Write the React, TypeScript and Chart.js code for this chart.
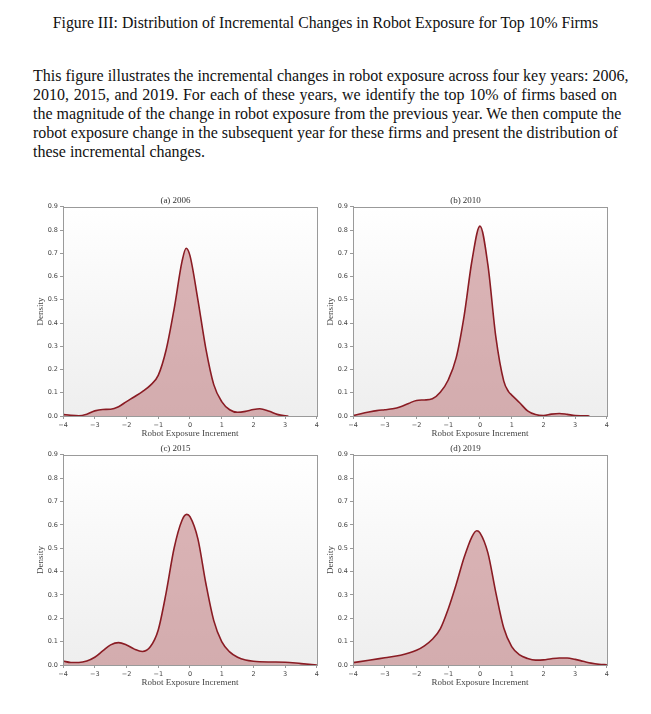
import React, { useEffect, useRef } from "react";
import { Chart, registerables } from "chart.js";

Chart.register(...registerables);

// ---- data ----
const figureTitle = "Figure III: Distribution of Incremental Changes in Robot Exposure for Top 10% Firms";
const paragraphLines = [
  "This figure illustrates the incremental changes in robot exposure across four key years: 2006,",
  "2010, 2015, and 2019.  For each of these years, we identify the top 10% of firms based on",
  "the magnitude of the change in robot exposure from the previous year. We then compute the",
  "robot exposure change in the subsequent year for these firms and present the distribution of",
  "these incremental changes.",
];

const panelTitles = ["(a) 2006", "(b) 2010", "(c) 2015", "(d) 2019"];
const xAxisTitle = "Robot Exposure Increment";
const yAxisTitle = "Density";

const xTickValues = [-4, -3, -2, -1, 0, 1, 2, 3, 4];
const yTickValues = [0, 0.1, 0.2, 0.3, 0.4, 0.5, 0.6, 0.7, 0.8, 0.9];

const x2006 = [-4, -3.75, -3.5, -3.25, -3, -2.75, -2.5, -2.25, -2, -1.75, -1.5, -1.25, -1, -0.75, -0.5, -0.25, -0.12, 0, 0.25, 0.5, 0.75, 1, 1.25, 1.5, 1.75, 2, 2.2, 2.5, 2.75, 3, 3.1];
const y2006 = [0.007, 0.003, 0.001, 0.008, 0.022, 0.028, 0.029, 0.04, 0.062, 0.083, 0.105, 0.132, 0.175, 0.285, 0.46, 0.665, 0.722, 0.69, 0.5, 0.29, 0.135, 0.062, 0.027, 0.016, 0.02, 0.028, 0.031, 0.02, 0.007, 0.001, 0];

const x2010 = [-4, -3.75, -3.5, -3.25, -3, -2.75, -2.5, -2.25, -2, -1.75, -1.5, -1.25, -1, -0.75, -0.5, -0.25, 0, 0.25, 0.5, 0.75, 0.9, 1, 1.25, 1.5, 1.75, 2, 2.25, 2.5, 2.75, 3, 3.25, 3.45];
const y2010 = [0.002, 0.01, 0.017, 0.023, 0.027, 0.031, 0.04, 0.054, 0.067, 0.069, 0.074, 0.102, 0.155, 0.25, 0.43, 0.67, 0.817, 0.65, 0.34, 0.15, 0.105, 0.09, 0.057, 0.022, 0.006, 0.002, 0.008, 0.011, 0.007, 0.002, 0.001, 0];

const x2015 = [-4, -3.75, -3.5, -3.25, -3, -2.75, -2.5, -2.25, -2, -1.75, -1.5, -1.25, -1, -0.75, -0.5, -0.25, -0.1, 0, 0.25, 0.5, 0.75, 1, 1.25, 1.5, 1.75, 2, 2.5, 3, 3.5, 4];
const y2015 = [0.017, 0.011, 0.011, 0.017, 0.033, 0.06, 0.086, 0.096, 0.086, 0.068, 0.058, 0.078, 0.15, 0.31, 0.5, 0.62, 0.645, 0.635, 0.54, 0.35, 0.19, 0.1, 0.056, 0.033, 0.021, 0.016, 0.013, 0.012, 0.006, 0];

const x2019 = [-4, -3.5, -3, -2.5, -2, -1.75, -1.5, -1.25, -1, -0.75, -0.5, -0.25, -0.1, 0, 0.25, 0.5, 0.75, 1, 1.25, 1.5, 1.75, 2, 2.25, 2.5, 2.75, 3, 3.25, 3.5, 3.75, 4];
const y2019 = [0.01, 0.02, 0.031, 0.042, 0.063, 0.082, 0.11, 0.155, 0.24, 0.345, 0.46, 0.55, 0.575, 0.566, 0.48, 0.31, 0.158, 0.079, 0.043, 0.028, 0.021, 0.022, 0.027, 0.03, 0.03, 0.024, 0.016, 0.008, 0.003, 0.001];

const seriesX = [x2006, x2010, x2015, x2019];
const seriesY = [y2006, y2010, y2015, y2019];

// ---- layout (positions only) ----
const panelBoxes = [
  { left: 30, top: 193, width: 291, height: 249 },
  { left: 320, top: 193, width: 291, height: 249 },
  { left: 30, top: 441, width: 291, height: 250 },
  { left: 320, top: 441, width: 291, height: 250 },
];

const LINE_COLOR = "#8a1c24";
const FILL_COLOR = "rgba(175, 80, 85, 0.42)";
const AXIS_COLOR = "#9a9a9a";
const SERIF = "'Liberation Serif', 'Times New Roman', serif";
const SANS = "'DejaVu Sans', sans-serif";

const framePlugin = {
  id: "frame",
  beforeDraw(chart: any) {
    const { ctx, chartArea } = chart;
    if (!chartArea) return;
    const { left, top, right, bottom } = chartArea;
    ctx.save();
    const g = ctx.createLinearGradient(0, top, 0, bottom);
    g.addColorStop(0, "#ffffff");
    g.addColorStop(1, "#eeeeee");
    ctx.fillStyle = g;
    ctx.fillRect(left, top, right - left, bottom - top);
    ctx.restore();
  },
  afterDraw(chart: any) {
    const { ctx, chartArea } = chart;
    const { left, top, right, bottom } = chartArea;
    ctx.save();
    ctx.strokeStyle = AXIS_COLOR;
    ctx.lineWidth = 1;
    ctx.strokeRect(Math.round(left) + 0.5, Math.round(top) + 0.5, Math.round(right - left), Math.round(bottom - top));
    ctx.restore();
  },
};

function fmtX(v: number) {
  return v < 0 ? "\u2212" + Math.abs(v) : String(v);
}

function Panel({ idx }: { idx: number }) {
  const ref = useRef<HTMLCanvasElement | null>(null);
  const box = panelBoxes[idx];
  useEffect(() => {
    if (!ref.current) return;
    const xs = seriesX[idx];
    const ys = seriesY[idx];
    const chart = new Chart(ref.current, {
      type: "line",
      data: {
        datasets: [
          {
            data: xs.map((x, i) => ({ x, y: ys[i] })),
            borderColor: LINE_COLOR,
            backgroundColor: FILL_COLOR,
            fill: "origin",
            borderWidth: 1.6,
            pointRadius: 0,
            cubicInterpolationMode: "monotone",
          } as any,
        ],
      },
      options: {
        animation: false,
        responsive: false,
        devicePixelRatio: 1,
        layout: { padding: 0 },
        plugins: {
          legend: { display: false },
          tooltip: { enabled: false },
          title: {
            display: true,
            text: panelTitles[idx],
            color: "#333",
            font: { family: SERIF, size: 9, weight: "normal" },
            padding: { top: 2, bottom: 1 },
          },
        },
        scales: {
          x: {
            type: "linear",
            min: -4,
            max: 4,
            afterBuildTicks: (s: any) => {
              s.ticks = xTickValues.map((v) => ({ value: v }));
            },
            afterFit: (s: any) => {
              s.height = 26;
            },
            ticks: {
              callback: (v: any) => fmtX(Number(v)),
              font: { family: SANS, size: 6.5 },
              color: "#444",
              padding: 2,
              maxRotation: 0,
              autoSkip: false,
            },
            grid: { drawOnChartArea: false, tickLength: 3, color: AXIS_COLOR },
            border: { color: AXIS_COLOR },
            title: {
              display: true,
              text: xAxisTitle,
              color: "#444",
              font: { family: SERIF, size: 9 },
              padding: { top: 0, bottom: 3 },
            },
          },
          y: {
            type: "linear",
            min: 0,
            max: 0.9,
            afterBuildTicks: (s: any) => {
              s.ticks = yTickValues.map((v) => ({ value: v }));
            },
            afterFit: (s: any) => {
              s.width = 33;
            },
            ticks: {
              callback: (v: any) => Number(v).toFixed(1),
              font: { family: SANS, size: 6.5 },
              color: "#444",
              padding: 2,
              autoSkip: false,
            },
            grid: { drawOnChartArea: false, tickLength: 3, color: AXIS_COLOR },
            border: { color: AXIS_COLOR },
            title: {
              display: true,
              text: yAxisTitle,
              color: "#444",
              font: { family: SERIF, size: 9 },
              padding: { top: 5, bottom: 0 },
            },
          },
        },
      } as any,
      plugins: [framePlugin],
    });
    return () => chart.destroy();
  }, [idx]);
  return (
    <canvas
      ref={ref}
      width={box.width}
      height={box.height}
      style={{ position: "absolute", left: box.left, top: box.top, width: box.width, height: box.height }}
    />
  );
}

export default function App() {
  return (
    <div style={{ position: "absolute", left: 0, top: 0, width: 651, height: 714, background: "#fff", overflow: "hidden" }}>
      <div
        style={{
          position: "absolute",
          left: 0,
          top: 13,
          width: 651,
          textAlign: "center",
          fontFamily: SERIF,
          fontSize: 15.75,
          lineHeight: "19px",
          color: "#111",
        }}
      >
        {figureTitle}
      </div>
      {paragraphLines.map((line, i) => (
        <div
          key={i}
          style={{
            position: "absolute",
            left: 33,
            top: 65.5 + i * 19,
            width: 584,
            fontFamily: SERIF,
            fontSize: 16,
            lineHeight: "19px",
            color: "#111",
            textAlign: i === paragraphLines.length - 1 ? "left" : "justify",
            textAlignLast: i === paragraphLines.length - 1 ? "left" : "justify",
            whiteSpace: "nowrap",
          } as any}
        >
          {line}
        </div>
      ))}
      {panelTitles.map((_, i) => (
        <Panel key={i} idx={i} />
      ))}
    </div>
  );
}
